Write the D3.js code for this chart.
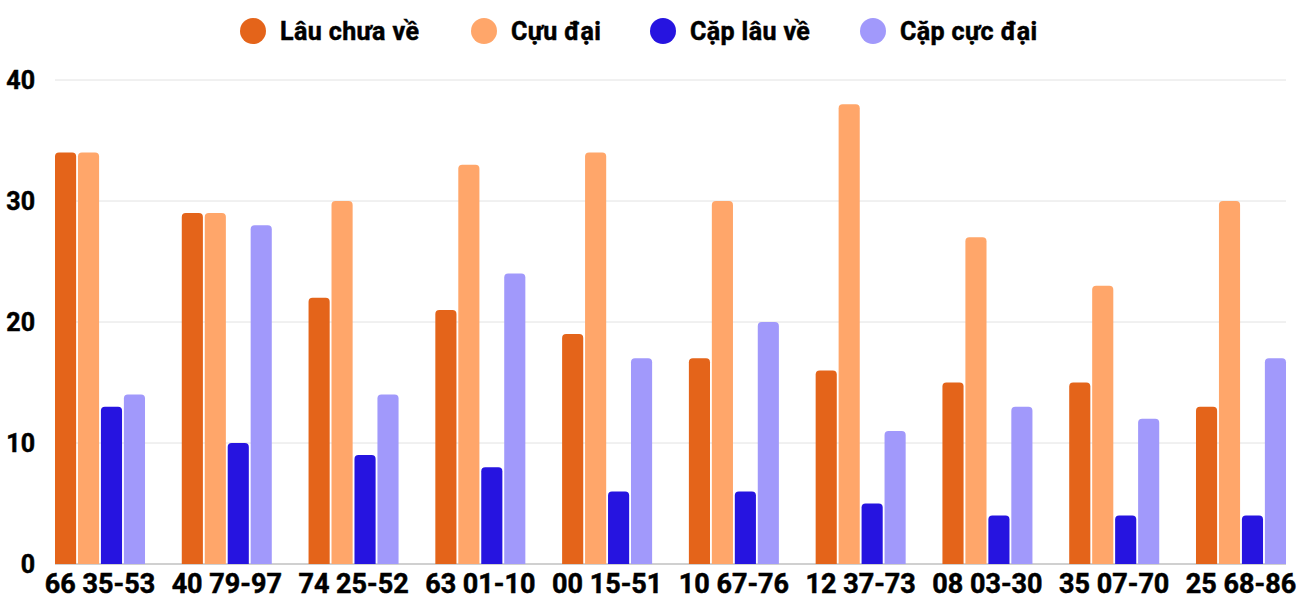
<!DOCTYPE html>
<html>
<head>
<meta charset="utf-8">
<script src="https://cdn.jsdelivr.net/npm/d3@7"></script>
<style>
  body { margin: 0; background: #fff; font-family: Roboto, "Noto Sans", sans-serif; }
  text { fill: #000; stroke: #000; stroke-width: 0.5px; font-weight: bold; }
</style>
</head>
<body>
<div id="chart"></div>
<script>
// data
const categories = ["66 35-53", "40 79-97", "74 25-52", "63 01-10", "00 15-51",
                    "10 67-76", "12 37-73", "08 03-30", "35 07-70", "25 68-86"];
const seriesNames = ["Lâu chưa về", "Cựu đại", "Cặp lâu về", "Cặp cực đại"];
const lauChuaVe = [34, 29, 22, 21, 19, 17, 16, 15, 15, 13];
const cuuDai    = [34, 29, 30, 33, 34, 30, 38, 27, 23, 30];
const capLauVe  = [13, 10, 9, 8, 6, 6, 5, 4, 4, 4];
const capCucDai = [14, 28, 14, 24, 17, 20, 11, 13, 12, 17];
const yTicks = [0, 10, 20, 30, 40];

const seriesValues = [lauChuaVe, cuuDai, capLauVe, capCucDai];
const colors = ["#E4641A", "#FFA66A", "#2614E0", "#A199FB"];

const width = 1300, height = 600;
const margin = {top: 80, right: 14, bottom: 36, left: 55};

const svg = d3.select("#chart").append("svg")
    .attr("width", width)
    .attr("height", height);

const x0 = d3.scaleBand()
    .domain(categories)
    .range([margin.left, width - margin.right])
    .paddingInner(0.29)
    .paddingOuter(0);

const x1 = d3.scaleBand()
    .domain(d3.range(seriesNames.length))
    .range([0, x0.bandwidth()])
    .paddingInner(0.08);

const y = d3.scaleLinear()
    .domain([0, 40])
    .range([height - margin.bottom, margin.top]);

// gridlines
svg.append("g")
    .selectAll("line")
    .data(yTicks)
    .enter()
    .append("line")
    .attr("x1", margin.left)
    .attr("x2", width - margin.right)
    .attr("y1", d => y(d))
    .attr("y2", d => y(d))
    .attr("stroke", d => d === 0 ? "#d0d0d0" : "#e2e2e2")
    .attr("stroke-width", d => d === 0 ? 2 : 1);

// y labels
svg.append("g")
    .selectAll("text")
    .data(yTicks)
    .enter()
    .append("text")
    .attr("x", 35)
    .attr("y", d => y(d))
    .attr("dy", "0.36em")
    .attr("text-anchor", "end")
    .style("font-size", "25px")
    .text(d => d);

// bar with rounded top corners
function barPath(x, yTop, w, yBase, r) {
    r = Math.min(r, w / 2, yBase - yTop);
    return `M${x},${yBase}V${yTop + r}Q${x},${yTop} ${x + r},${yTop}` +
           `H${x + w - r}Q${x + w},${yTop} ${x + w},${yTop + r}V${yBase}Z`;
}

const groups = svg.append("g")
    .selectAll("g")
    .data(categories)
    .enter()
    .append("g")
    .attr("transform", d => `translate(${x0(d)},0)`);

groups.selectAll("path")
    .data((d, i) => seriesValues.map((vals, s) => ({s: s, v: vals[i]})))
    .enter()
    .append("path")
    .attr("fill", d => colors[d.s])
    .attr("d", d => barPath(x1(d.s), y(d.v), x1.bandwidth(), y(0), 4));

// x labels
svg.append("g")
    .selectAll("text")
    .data(categories)
    .enter()
    .append("text")
    .attr("x", d => x0(d) + x0.bandwidth() / 2)
    .attr("y", 593)
    .attr("text-anchor", "middle")
    .style("font-size", "27px")
    .text(d => d);

// legend
const legendX = [253, 484, 663, 873];
const legend = svg.append("g")
    .selectAll("g")
    .data(seriesNames)
    .enter()
    .append("g")
    .attr("transform", (d, i) => `translate(${legendX[i]},31)`);

legend.append("circle")
    .attr("r", 13)
    .attr("fill", (d, i) => colors[i]);

legend.append("text")
    .attr("x", 27)
    .attr("dy", "0.36em")
    .style("font-size", "25px")
    .style("letter-spacing", "0.4px")
    .text(d => d);
</script>
</body>
</html>
